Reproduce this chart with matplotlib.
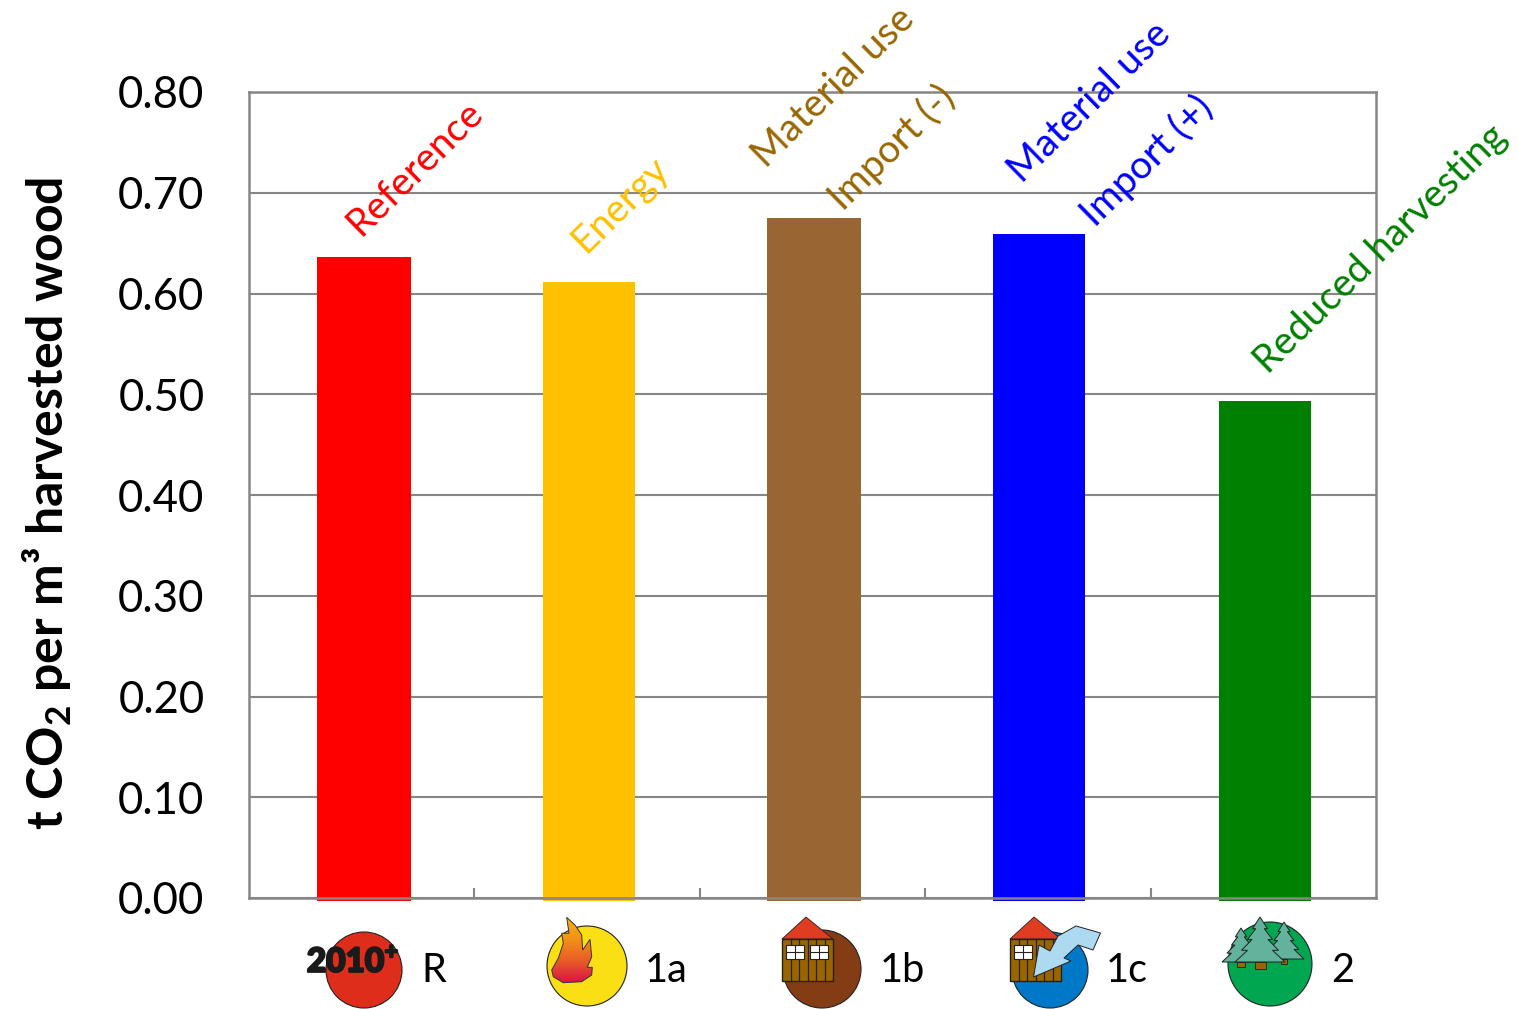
#!/usr/bin/env python3
import numpy as np
import matplotlib.pyplot as plt
import matplotlib.patheffects as pe
from matplotlib.patches import Circle, Polygon, Rectangle
from matplotlib.colors import LinearSegmentedColormap

plt.rcParams['font.family'] = ['Lato', 'DejaVu Sans']
plt.rcParams['mathtext.fontset'] = 'custom'
plt.rcParams['mathtext.bf'] = 'Lato:bold'
plt.rcParams['mathtext.rm'] = 'Lato'

# data
scenarios = ['R', '1a', '1b', '1c', '2']
values = [0.636, 0.611, 0.675, 0.659, 0.493]
yticks = [0.0, 0.1, 0.2, 0.3, 0.4, 0.5, 0.6, 0.7, 0.8]
ylabel = r't CO$_{\mathbf{2}}$ per m³ harvested wood'

# style
bar_colors = ['#FF0000', '#FFC000', '#996633', '#0000FF', '#008000']
text_colors = ['#FF0000', '#FFC000', '#996600', '#0000FF', '#008000']
W, H = 1518, 1009
gray = '#868686'

fig = plt.figure(figsize=(W / 100, H / 100), dpi=100)
ax = fig.add_axes([249 / W, 1 - 898 / H, (1376 - 249) / W, (898 - 92) / H])

# bars hang a little below zero in the original
xs = np.arange(len(values)) + np.array([0.01, 0.01, 0.006, 0.006, 0.006])
widths = [0.417, 0.408, 0.417, 0.408, 0.408]
for x, v, w, c in zip(xs, values, widths, bar_colors):
    ax.bar(x, v + 0.003, width=w, bottom=-0.003, color=c, zorder=2, clip_on=False)

ax.set_xlim(-0.5, 4.5)
ax.set_ylim(0, 0.8)
ax.set_yticks(yticks)
ax.set_yticklabels(['%.2f' % t for t in yticks], fontsize=31.5, color='black')
ax.set_xticks(np.arange(0.5, 4.5, 1))
ax.set_xticklabels([])
ax.tick_params(axis='x', direction='in', length=7, width=1.5, color=gray)
ax.tick_params(axis='y', length=0, pad=32)
ax.grid(axis='y', color=gray, lw=1.5, zorder=1)
ax.set_axisbelow(True)
for s in ax.spines.values():
    s.set_color(gray)
    s.set_linewidth(1.8)
    s.set_zorder(3)

fig.text(47 / W, 1 - 503 / H, ylabel, rotation=90, fontsize=36, fontweight='bold',
         ha='center', va='center')

# overlay in pixel coordinates for the labels and icons
ov = fig.add_axes([0, 0, 1, 1], zorder=5)
ov.set_xlim(0, W)
ov.set_ylim(H, 0)
ov.axis('off')
ov.patch.set_alpha(0)

rot_labels = [
    ('Reference', 360, 237, text_colors[0]),
    ('Energy', 586, 254, text_colors[1]),
    ('Material use', 766, 169, text_colors[2]),
    ('Import (-)', 843, 212, text_colors[2]),
    ('Material use', 1022, 184, text_colors[3]),
    ('Import (+)', 1095, 228, text_colors[3]),
    ('Reduced harvesting', 1268, 375, text_colors[4]),
]
for txt, x, y, c in rot_labels:
    ov.text(x, y, txt, rotation=44.5, rotation_mode='anchor', ha='left', va='baseline',
            fontsize=28, color=c, clip_on=False)

for name, x in zip(scenarios, [434, 666, 902, 1127, 1343]):
    ov.text(x, 971, name, ha='center', va='center', fontsize=28.5, color='black')


def disc(cx, cy, r, color):
    ov.add_patch(Circle((cx, cy), r, fc=color, ec='#222222', lw=0.8))


def house(left, right, windows):
    top, eave, base = 917, 939, 981
    mid = (left + right) / 2 - 1.5
    ov.add_patch(Polygon([(left, eave), (mid, top), (right, eave)], fc='#E03C22', ec='#222222', lw=0.6))
    ov.add_patch(Rectangle((left, eave), right - left, base - eave, fc='#9A6400', ec='#222222', lw=1))
    for px in np.linspace(left, right, 7)[1:-1]:
        ov.plot([px, px], [eave, base], color='#222222', lw=0.9)
    for wx in windows:
        ov.add_patch(Rectangle((left + wx, 945), 18, 14, fc='white', ec='#222222', lw=0.8, zorder=3))
        ov.plot([left + wx + 9, left + wx + 9], [945, 959], color='#222222', lw=0.8, zorder=4)
        ov.plot([left + wx, left + wx + 18], [952, 952], color='#222222', lw=0.8, zorder=4)


def tree(cx, top, base, half, trunk_w, trunk_h):
    ov.add_patch(Rectangle((cx - trunk_w / 2, base), trunk_w, trunk_h, fc='#9A6400', ec='#222222', lw=0.6))
    h = base - top
    right = [(0.30, 0.26), (0.17, 0.26), (0.50, 0.50), (0.32, 0.50), (0.74, 0.74), (0.50, 0.74), (1.0, 1.0)]
    pts = [(cx, top)] + [(cx + half * a, top + h * b) for a, b in right]
    pts += [(cx - half * a, top + h * b) for a, b in reversed(right)]
    ov.add_patch(Polygon(pts, fc='#63B29C', ec='#222222', lw=0.7))


# R
disc(364, 970, 38, '#DE2D1B')
ov.text(353, 961, r'2010$^{\mathbf{+}}$', ha='center', va='center', fontsize=24, fontweight='black',
        color='#1A1A1A', path_effects=[pe.withStroke(linewidth=1.6, foreground='#1A1A1A')])

# 1a
disc(587, 966, 40, '#F9DF14')
flame = [(566.7, 917.3), (575, 925), (581.7, 935), (582.7, 950), (590, 939.3), (591.7, 956.7),
         (587.3, 967.3), (592.3, 967.3), (591.7, 975), (581.7, 981.7), (563.3, 982.7),
         (553.3, 976.7), (551.7, 970), (558.3, 958.3), (563.3, 943.3), (561.7, 933.3), (569, 933.3)]
flame_patch = Polygon(flame, fc='none', ec='#333333', lw=0.7, zorder=4)
ov.add_patch(flame_patch)
cm = LinearSegmentedColormap.from_list('flame', ['#F8B010', '#F39018', '#E85A28', '#D8104A'])
im = ov.imshow(np.linspace(0, 1, 64).reshape(-1, 1), extent=(550, 594, 984, 917), cmap=cm,
               aspect='auto', zorder=3)
im.set_clip_path(flame_patch)
ov.set_xlim(0, W)
ov.set_ylim(H, 0)

# 1b
disc(822, 969, 39, '#843C14')
house(782, 833, [3.5, 28])

# 1c
disc(1050, 970, 38, '#0078C8')
house(1010, 1061, [3.5])
arrow_v = [(1033.5, 977), (1039, 945), (1050, 951), (1058, 936), (1076, 926), (1100.5, 933),
           (1093, 950), (1078, 945), (1064, 958), (1071, 961)]
ov.add_patch(Polygon(arrow_v, fc='#ADDAF0', ec='#222222', lw=0.7, zorder=5))

# 2
disc(1270, 964, 42, '#00A650')
tree(1284, 922, 959, 20, 6, 5)
tree(1241, 928, 962, 19, 8, 5)
tree(1260, 917, 962, 25, 11, 7)

fig.savefig('out.png', dpi=100)
